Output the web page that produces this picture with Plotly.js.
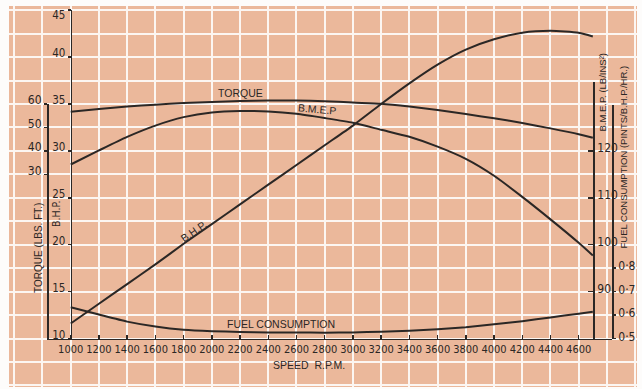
<!DOCTYPE html>
<html><head><meta charset="utf-8">
<script src="https://cdn.plot.ly/plotly-3.0.1.min.js"></script>
<style>html,body{margin:0;padding:0;background:#fdfcfb;}#chart{width:642px;height:389px;}</style>
</head><body><div id="chart"></div>
<script>
// ---- data ----
const rpm    = [1000,1200,1400,1600,1800,2000,2200,2400,2600,2800,3000,3200,3400,3600,3800,4000,4200,4400,4600,4700];
const bhp    = [11.6,13.7,15.8,17.9,20.1,22.2,24.3,26.4,28.5,30.6,32.7,35.0,37.2,39.2,40.8,41.9,42.6,42.8,42.6,42.2];
const torque = [56.7,57.9,58.9,59.7,60.4,60.9,61.3,61.5,61.5,61.2,60.6,60.1,58.9,57.4,55.7,53.9,51.9,49.6,47.1,45.6];
const bmep   = [117.1,120.1,123.0,125.4,127.2,128.2,128.5,128.4,127.9,127.0,126.0,124.5,123.0,120.9,118.3,114.7,110.2,105.4,100.4,97.7];
const fuel   = [0.633,0.602,0.572,0.551,0.537,0.531,0.528,0.526,0.526,0.525,0.526,0.529,0.533,0.539,0.548,0.561,0.574,0.590,0.606,0.614];

const speedTicks  = [1000,1200,1400,1600,1800,2000,2200,2400,2600,2800,3000,3200,3400,3600,3800,4000,4200,4400,4600];
const bhpTicks    = [10,15,20,25,30,35,40,45];
const torqueTicks = [30,40,50,60];
const bmepTicks   = [90,100,110,120];
const fuelTicks   = [0.5,0.6,0.7,0.8];
const fuelTickText = ['0·5','0·6','0·7','0·8'];

// ---- pixel calibration of the sheet ----
const L=9, R=637, T=6, B=387, W=R-L, H=B-T;
const fx = p => (p-L)/W, fy = p => (B-p)/H;
const AX = 338.5;                       // row of the speed axis line
const rpmAt = p => 1000 + (p-70.7)/0.141111;
const bhpAt = p => 10 + (AX-p)/9.38;
const tqAt  = p => 60 + (104-p)/2.345;
const bmAt  = p => 90 + (291.6-p)/4.69;
const fuAt  = p => 0.5 + (AX-p)/234.5;

const INK='#2b2725', PEACH='#EBB89B', GRID='#FCF6F2';
const SANS='Liberation Sans, Arial, sans-serif';
const NARROW='Liberation Sans Narrow, Arial Narrow, DejaVu Sans Condensed, sans-serif';

const axisBase = {showgrid:false, zeroline:false, showline:true, linecolor:INK, linewidth:1.6,
  tickcolor:INK, tickwidth:1.5, ticklen:4, tickmode:'array', fixedrange:true, ticklabeloverflow:'allow',
  tickfont:{family:NARROW, size:12, color:INK}};

const curve = {mode:'lines', line:{color:INK, width:2, shape:'spline', smoothing:0.6}, hoverinfo:'skip', showlegend:false};
const ghost = {mode:'none', hoverinfo:'skip', showlegend:false, xaxis:'x2'};

const data = [
  Object.assign({x:rpm, y:bhp,    xaxis:'x', yaxis:'y'},  curve),
  Object.assign({x:rpm, y:torque, xaxis:'x', yaxis:'y6'}, curve),
  Object.assign({x:rpm, y:bmep,   xaxis:'x', yaxis:'y7'}, curve),
  Object.assign({x:rpm, y:fuel,   xaxis:'x', yaxis:'y8'}, curve),
  Object.assign({x:rpm, y:bhp,    yaxis:'y2'}, ghost),
  Object.assign({x:rpm, y:bhp,    yaxis:'y9'}, ghost),
  Object.assign({x:rpm, y:torque, yaxis:'y3'}, ghost),
  Object.assign({x:rpm, y:bmep,   yaxis:'y4'}, ghost),
  Object.assign({x:rpm, y:fuel,   yaxis:'y5'}, ghost)
];

function ann(text, px, py, opts){
  return Object.assign({text:text, xref:'paper', yref:'paper', x:fx(px), y:fy(py),
    xanchor:'center', yanchor:'middle', showarrow:false,
    font:{family:SANS, size:10.5, color:INK}}, opts||{});
}

const bhpAxis = Object.assign({}, axisBase, {domain:[fy(AX), fy(AX-35*9.38)], range:[10,45],
         anchor:'free', position:fx(70.7), side:'left', ticks:'outside', ticklen:3,
         tickfont:{family:NARROW, size:11.5, color:INK}});

const layout = {
  width:642, height:389,
  margin:{l:L, r:642-R, t:T, b:389-B, pad:0},
  paper_bgcolor:'#fdfcfb', plot_bgcolor:'rgba(0,0,0,0)',
  showlegend:false,
  shapes:[{type:'rect', xref:'paper', yref:'paper', x0:0, x1:1, y0:0, y1:1,
           fillcolor:PEACH, line:{width:0}, layer:'below'}],
  xaxis:{domain:[0,1], range:[rpmAt(L), rpmAt(R)], anchor:'y', tickmode:'linear', tick0:1000, dtick:200,
         showgrid:true, gridcolor:GRID, gridwidth:2, showticklabels:false, ticks:'', showline:false, zeroline:false, fixedrange:true},
  yaxis:{domain:[0,1], range:[bhpAt(B), bhpAt(T)], anchor:'x', tickmode:'linear', tick0:10, dtick:2.5,
         showgrid:true, gridcolor:GRID, gridwidth:2, showticklabels:false, ticks:'', showline:false, zeroline:false, fixedrange:true},
  yaxis6:{overlaying:'y', range:[tqAt(B), tqAt(T)], visible:false, fixedrange:true},
  yaxis7:{overlaying:'y', range:[bmAt(B), bmAt(T)], visible:false, fixedrange:true},
  yaxis8:{overlaying:'y', range:[fuAt(B), fuAt(T)], visible:false, fixedrange:true},
  xaxis2:Object.assign({}, axisBase, {domain:[fx(47), fx(612.3)], range:[rpmAt(47), rpmAt(612.3)],
         anchor:'free', position:fy(AX), side:'bottom', tickvals:speedTicks, ticks:'inside',
         tickfont:{family:NARROW, size:11, color:INK}}),
  // B.H.P. scale: all labels sit just above their ticks, the top one just below
  yaxis2:Object.assign({}, bhpAxis, {tickvals:bhpTicks.slice(0,-1), ticklabelshift:-4}),
  yaxis9:Object.assign({}, bhpAxis, {tickvals:bhpTicks.slice(-1), ticklabelshift:5}),
  yaxis3:Object.assign({}, axisBase, {domain:[fy(AX), fy(104)], range:[tqAt(AX), 60],
         anchor:'free', position:fx(47), side:'left', tickvals:torqueTicks, ticks:'outside', ticklen:3, ticklabelshift:-4}),
  yaxis4:Object.assign({}, axisBase, {domain:[fy(AX), fy(81.7)], range:[bmAt(AX), bmAt(81.7)],
         anchor:'free', position:fx(593.3), side:'right', tickvals:bmepTicks, ticks:'inside', ticklen:5, ticklabelshift:-3}),
  yaxis5:Object.assign({}, axisBase, {domain:[fy(AX), fy(105)], range:[0.5, fuAt(105)],
         anchor:'free', position:fx(612.3), side:'right', tickvals:fuelTicks, ticktext:fuelTickText, ticks:'outside', ticklen:2, ticklabelshift:-2}),
  annotations:[
    ann('TORQUE', 241, 92.5),
    ann('B.M.E.P', 317, 109, {textangle:5}),
    ann('FUEL CONSUMPTION', 281, 324),
    ann('B.H.P.', 193.5, 231, {textangle:-35}),
    ann('SPEED&nbsp;&nbsp;R.P.M.', 309, 365),
    ann('TORQUE (LBS. FT.)', 38, 248, {textangle:-90, font:{family:SANS, size:10, color:INK}}),
    ann('B.H.P.', 56, 214, {textangle:-90, font:{family:NARROW, size:10.5, color:INK}}),
    ann('B.M.E.P. (LB/INS²)', 602, 92.5, {textangle:-90, font:{family:SANS, size:9.5, color:INK}}),
    ann('FUEL CONSUMPTION (PINTS/B.H.P./HR.)', 623, 157.5, {textangle:-90, font:{family:SANS, size:9.5, color:INK}})
  ]
};

Plotly.newPlot('chart', data, layout, {staticPlot:true, displayModeBar:false});
</script>
</body></html>
